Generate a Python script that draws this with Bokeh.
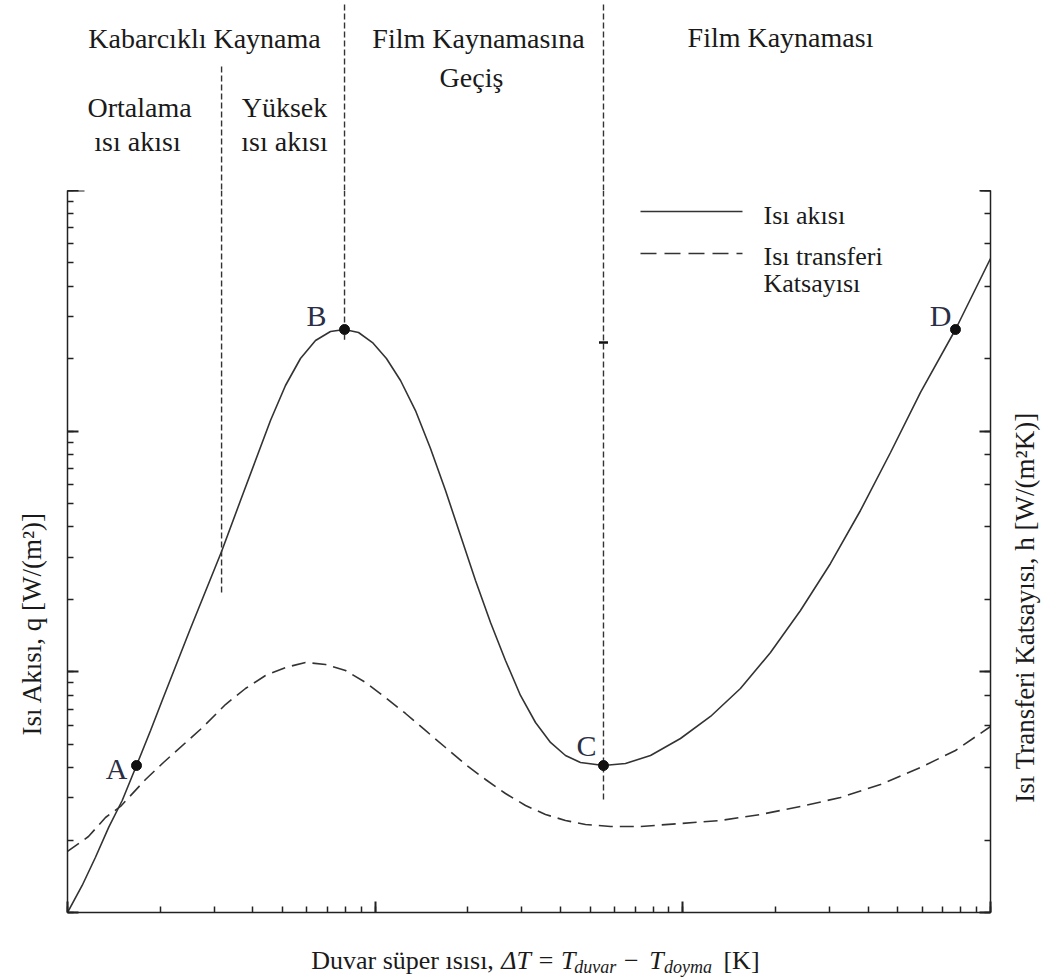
import math
from bokeh.plotting import figure
from bokeh.models import Range1d, LogAxis, CustomJSTickFormatter
from bokeh.layouts import column, row
from bokeh.embed import file_html
from bokeh.resources import INLINE
from bokeh.core.properties import value

# Boiling curve: wall superheat dT [K] vs heat flux q [W/m^2]
dt_q = [1.0, 1.116, 1.233, 1.362, 1.506, 1.676, 1.862, 2.031, 2.510, 3.168,
        3.650, 4.083, 4.568, 5.111, 5.718, 6.399, 7.158, 7.951,
        8.829, 9.802, 10.88, 12.09, 13.52, 15.13, 16.93, 18.94, 21.19, 23.71,
        26.52, 29.67, 33.20, 37.14, 41.55, 46.49, 55.22,
        65.11, 78.51, 98.26, 123.0, 153.9, 192.7, 241.2, 302.0, 377.9, 473.2,
        592.3, 769.4, 1000]
q = [1.0e4, 1.295e4, 1.697e4, 2.262e4, 2.920e4, 4.081e4, 5.706e4, 7.602e4, 1.514e5, 3.162e5,
     5.151e5, 7.553e5, 1.107e6, 1.548e6, 2.004e6, 2.380e6, 2.595e6, 2.645e6,
     2.570e6, 2.335e6, 2.004e6, 1.624e6, 1.218e6, 8.472e5, 5.667e5, 3.686e5, 2.395e5, 1.603e5,
     1.115e5, 7.975e4, 6.159e4, 5.087e4, 4.491e4, 4.201e4, 4.081e4,
     4.161e4, 4.491e4, 5.284e4, 6.524e4, 8.526e4, 1.203e5, 1.798e5, 2.820e5, 4.682e5, 8.154e5,
     1.448e6, 2.645e6, 5.217e6]

# Heat transfer coefficient h along the same curve
dt_h = [1.0, 1.170, 1.329, 1.487, 1.793, 2.051, 2.747, 3.262, 3.788, 4.401,
        5.111, 5.936, 6.896, 8.011, 9.303, 10.80, 12.55, 14.57, 16.93, 19.66,
        22.84, 26.52, 30.81, 35.78, 41.55, 48.26, 58.21, 72.86, 98.26, 132.6,
        178.8, 241.2, 325.5, 438.9, 592.3, 769.4, 1000]
h = [1.793e4, 2.069e4, 2.482e4, 2.758e4, 3.570e4, 4.201e4, 5.871e4, 7.315e4, 8.526e4, 9.656e4,
     1.042e5, 1.094e5, 1.073e5, 1.013e5, 9.031e4, 7.824e4, 6.713e4, 5.706e4, 4.849e4, 4.121e4,
     3.570e4, 3.122e4, 2.784e4, 2.554e4, 2.412e4, 2.321e4, 2.277e4, 2.277e4, 2.343e4, 2.412e4,
     2.554e4, 2.758e4, 3.005e4, 3.403e4, 4.004e4, 4.711e4, 5.928e4]

# Characteristic points of the curve
pt_names = ["A", "B", "C", "D"]
pt_dt = [1.676, 7.951, 55.22, 769.4]
pt_q = [4.081e4, 2.645e6, 4.081e4, 2.645e6]
pt_dx = [-9, -28, -17, -15]
pt_dy = [3, -14, -20, -14]
pt_align = ["right", "center", "center", "center"]

# Regime boundaries (dT) and where each dashed divider stops inside the plot
bound_dt = [3.168, 7.951, 55.22]
bound_q_end = [2.1e5, 2.4e6, 2.9e4]
bound_head_top = [66, 4, 4]

FONT = "Liberation Serif"
INK = "#1a1a1a"
LINE = "#333333"

W, H = 1047, 977
LS, RS = 55, 45          # side strips holding the rotated axis titles
PAD = 12                 # axis border inside the main plot
L, R = LS + PAD, W - RS - PAD   # frame left / right in page px (67, 990)
MID = W - LS - RS
HEAD = 190
FRAME_H = 722
MAIN_H = FRAME_H + PAD
FOOT = H - HEAD - MAIN_H
DECADE_X = (R - L) / 3.0
DECADE_Y = FRAME_H / 3.0


def sx(px):
    """horizontal page position -> dT value on the shared log axis"""
    return 10 ** ((px - L) / DECADE_X)


def sy(py):
    """vertical page position -> value on the log y axis"""
    return 10 ** (7 - (py - HEAD) / DECADE_Y)


def strip(width, height, x_range, y_range):
    f = figure(width=width, height=height, x_range=x_range, y_range=y_range,
               output_backend="svg", toolbar_location=None,
               x_axis_location=None, y_axis_location=None,
               min_border_left=0, min_border_right=0, min_border_top=0, min_border_bottom=0)
    f.outline_line_color = None
    f.grid.visible = False
    return f


xr = Range1d(1, 1000)

# ---------- header strip with regime names ----------
head = figure(width=MID, height=HEAD, x_axis_type="log", x_range=xr, y_range=Range1d(HEAD, 0),
              output_backend="svg", toolbar_location=None,
              x_axis_location=None, y_axis_location=None,
              min_border_left=PAD, min_border_right=PAD, min_border_top=0, min_border_bottom=0)
head.outline_line_color = None
head.grid.visible = False

head.segment(x0=bound_dt, y0=bound_head_top, x1=bound_dt, y1=[HEAD] * 3,
             line_color=LINE, line_width=1.4, line_dash="6 3")

head_txt = [
    ("Kabarcıklı Kaynama", 204, 38),
    ("Ortalama", 139, 107),
    ("ısı akısı", 137, 141),
    ("Yüksek", 284, 107),
    ("ısı akısı", 284, 141),
    ("Film Kaynamasına", 478, 38),
    ("Geçiş", 471, 77),
    ("Film Kaynaması", 780, 37),
]
head.text(x=[sx(t[1]) for t in head_txt], y=[t[2] for t in head_txt],
          text=[t[0] for t in head_txt], text_font=value(FONT), text_font_size="28px",
          text_color=INK, text_align="center", text_baseline="alphabetic")

# ---------- main boiling-curve plot ----------
p = figure(width=MID, height=MAIN_H, x_axis_type="log", y_axis_type="log",
           x_range=xr, y_range=Range1d(1e4, 1e7),
           output_backend="svg", toolbar_location=None,
           min_border_left=PAD, min_border_right=PAD, min_border_top=0,
           min_border_bottom=PAD)
p.outline_line_color = None
p.grid.visible = False
p.add_layout(LogAxis(), "right")

blank = CustomJSTickFormatter(code="return ' ';")
for ax in p.axis:
    ax.formatter = blank
    ax.major_tick_in = 11
    ax.major_tick_out = 0
    ax.minor_tick_in = 6
    ax.minor_tick_out = 0
    ax.major_label_text_font_size = "4px"
    ax.major_label_standoff = 0
    ax.axis_line_color = "#222222"
    ax.axis_line_width = 1.5
    ax.major_tick_line_color = "#222222"
    ax.major_tick_line_width = 2
    ax.minor_tick_line_color = "#222222"
    ax.minor_tick_line_width = 1.5

# short caps at the top of both vertical axes
p.segment(x0=[1.0, sx(980)], y0=[1e7, 1e7], x1=[sx(84), 1000], y1=[1e7, 1e7],
          line_color="#222222", line_width=2)

# regime dividers
p.segment(x0=bound_dt, y0=[1e7] * 3, x1=bound_dt, y1=bound_q_end,
          line_color=LINE, line_width=1.4, line_dash="6 3")

# curves
p.line(dt_q, q, line_color=LINE, line_width=1.6)
p.line(dt_h, h, line_color=LINE, line_width=1.6, line_dash="14 7")

# characteristic points
p.scatter(pt_dt, pt_q, size=10, color="#111111")
p.scatter([bound_dt[2]], [sy(342)], marker="dash", size=9, line_width=2.5, color="#111111")
p.text(x=pt_dt, y=pt_q, text=pt_names, x_offset=pt_dx, y_offset=pt_dy, text_align=pt_align,
       text_font=value(FONT), text_font_size="30px", text_color="#2a2f45",
       text_baseline="alphabetic")

# legend
p.line([sx(640), sx(742)], [sy(211), sy(211)], line_color=LINE, line_width=1.6)
p.line([sx(640), sx(742)], [sy(253), sy(253)], line_color=LINE, line_width=1.6, line_dash="16 8")
p.text(x=[sx(763)] * 3, y=[sy(215), sy(256), sy(283)],
       text=["Isı akısı", "Isı transferi", "Katsayısı"],
       text_font=value(FONT), text_font_size="26px", text_color=INK,
       text_baseline="alphabetic")

# ---------- x-axis title with subscripts ----------
foot = strip(MID, FOOT, Range1d(LS, W - RS), Range1d(H, H - FOOT))
xl_norm = [("Duvar süper ısısı,", 305), ("−", 626), ("[K]", 728)]
xl_ital = [("ΔT = T", 500), ("T", 652)]
xl_sub = [("duvar", 575), ("doyma", 667)]
foot.text(x=[t[1] for t in xl_norm], y=[960] * len(xl_norm), text=[t[0] for t in xl_norm],
          text_font=value(FONT), text_font_size="26px", text_color=INK,
          text_align="left", text_baseline="alphabetic")
foot.text(x=[t[1] for t in xl_ital], y=[960] * len(xl_ital), text=[t[0] for t in xl_ital],
          text_font=value(FONT), text_font_size="26px", text_font_style="italic",
          text_color=INK, text_align="left", text_baseline="alphabetic")
foot.text(x=[t[1] for t in xl_sub], y=[966] * len(xl_sub), text=[t[0] for t in xl_sub],
          text_font=value(FONT), text_font_size="18px", text_font_style="italic",
          text_color=INK, text_align="left", text_baseline="alphabetic")

# ---------- rotated y-axis titles ----------
left = strip(LS, H, Range1d(0, LS), Range1d(0, H))
left.text(x=[31], y=[H - 623], text=["Isı Akısı, q [W/(m²)]"], angle=math.pi / 2,
          text_font=value(FONT), text_font_size="27px", text_color=INK,
          text_align="center", text_baseline="middle")

right = strip(RS, H, Range1d(W - RS, W), Range1d(0, H))
right.text(x=[1024], y=[H - 607], text=["Isı Transferi Katsayısı, h [W/(m²K)]"],
           angle=math.pi / 2, text_font=value(FONT), text_font_size="27px", text_color=INK,
           text_align="center", text_baseline="middle")

layout = row(left, column(head, p, foot, spacing=0), right, spacing=0)
open("out.html", "w").write(file_html(layout, INLINE))
